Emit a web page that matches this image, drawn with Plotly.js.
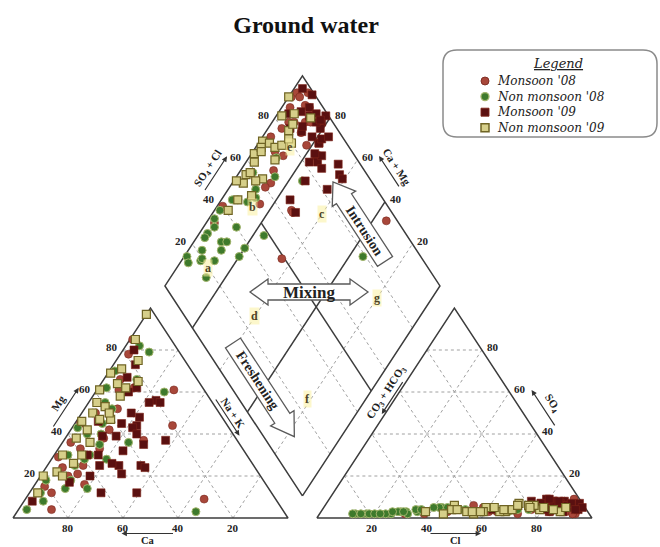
<!DOCTYPE html>
<html><head><meta charset="utf-8">
<script src="https://cdn.plot.ly/plotly-3.0.1.min.js"></script>
<style>html,body{margin:0;padding:0;background:#fff}</style>
</head><body>
<div id="chart" style="width:660px;height:547px"></div>
<script>
// ---------------- DATA (percent of meq/l) ----------------
const seriesNames = ["Monsoon '08", "Non monsoon '08", "Monsoon '09", "Non monsoon '09"];

// Monsoon '08
const m08Ca  = [14,19,31,11,20,34,61,69,66,84,26,62,70,45,28,53,59,70,81,44,42,80,48,36,58,25,66,52];
const m08Mg  = [85,78,61,61,44,37,36,29,21,4,9,25,20,50,66,45,33,24,15,42,55,12,38,52,30,62,16,33];
const m08Cl  = [86,84,68,60,46,61,31,38,83,86,91,89,93,76,78,92,80,89,92,86,72,86,58,70,64,54,80,50];
const m08SO4 = [5,4,4,4,3,3,2,2,3,4,5,3,2,4,6,2,6,9,2,6,2,8,5,4,3,6,5,4];

// Non monsoon '08
const n08Ca  = [11,22,15,55,40,79,66,85,93,32,46,35,28,39,53,65,65,79,45,51,84,13,52,60,48,70,38,57,74];
const n08Mg  = [79,66,60,43,36,20,14,8,4,3,50,62,70,55,40,30,25,18,45,35,12,82,28,28,40,18,52,30,14];
const n08Cl  = [68,50,71,31,43,13,35,17,12,75,29,26,34,42,18,20,28,24,52,62,40,56,32,22,30,36,45,15,26];
const n08SO4 = [3,4,4,3,5,2,3,2,2,4,3,2,4,5,2,2,3,2,4,4,5,3,2,2,3,4,5,2,3];

// Monsoon '09
const m09Ca  = [16,25,20,19,23,40,32,33,35,46,48,43,26,58,56,49,41,40,71,62,89,51,50,35,35,28,19,49,54,30,44,62,24,38];
const m09Mg  = [80,67,56,55,55,50,50,44,43,46,39,39,37,30,25,25,25,24,17,12,8,26,21,35,40,60,73,12,30,48,32,20,62,45];
const m09Cl  = [83,79,80,78,84,90,90,76,85,88,83,92,82,84,86,79,85,74,75,70,93,82,78,60,62,87,94,82,88,84,90,80,89,92];
const m09SO4 = [3,4,6,7,6,5,6,6,5,3,3.5,7,8,4,8,9,7,8,5,6,4,4,7,5,4,6,5,8,6,8,5,9,7,4];

// Non monsoon '09
const n09Ca  = [3,30,25,38,42,40,46,52,79,85,13,17,30,32,52,58,67,73,22,41,65,40,54,28,60,72,45];
const n09Mg  = [97,69,71,61,55,53,50,42,20,12,85,75,64,58,46,38,30,22,65,47,26,50,36,62,30,20,47];
const n09Cl  = [87,67,68,59,53,69,47,45,47,59,79,76,84,70,65,56,62,38,88,74,70,58,49,75,66,55,80];
const n09SO4 = [3,3,4,5,3,4,6,2,4,3,4,6,4,7,3,2,5,3,5,6,6,3,4,5,4,3,5];

const tickValues = [20, 40, 60, 80];
const facieLetters = ['a','b','c','d','e','f','g'];
const facieCaMg    = [88.7, 86.8, 60, 60.3, 87.5, 21, 20];
const facieSO4Cl   = [19.8, 50.6, 74.5, 25.5, 78.8, 25, 74.3];

// ---------------- GEOMETRY ----------------
const G = 0.105;
const W = 660, H = 547;
const PX0 = 13, PY0 = 518, SX = 275, SY = 210;
const SERIF = "Liberation Serif, Times New Roman, serif";
const LSERIF = "DejaVu Serif, serif";
const ANG = Math.atan2(SY, SX / 2) * 180 / Math.PI;

function cat(ca, mg) { const na = 100 - ca - mg; return [(na + mg / 2) / 100, mg / 100]; }
function ani(cl, so4) { return [1 + G + (cl + so4 / 2) / 100, so4 / 100]; }
function dia(camg, so4cl) { return [1 + G / 2 + (so4cl - camg) / 200, G + (camg + so4cl) / 100]; }
function px(x, y) { return [(x - PX0) / SX, (PY0 - y) / SY]; }
function pp(x, y) { return [x / W, 1 - y / H]; }

// ---------------- LINES ----------------
const gx = [], gy = [], ox = [], oy = [];
function seg(a, b, X, Y) { X.push(a[0], b[0], null); Y.push(a[1], b[1], null); }
tickValues.forEach(p => {
  seg(cat(100 - p, p), cat(0, p), gx, gy);
  seg(cat(p, 0), cat(p, 100 - p), gx, gy);
  seg(cat(100 - p, 0), cat(0, 100 - p), gx, gy);
  seg(ani(0, p), ani(100 - p, p), gx, gy);
  seg(ani(p, 0), ani(p, 100 - p), gx, gy);
  seg(ani(100 - p, 0), ani(0, 100 - p), gx, gy);
  seg(dia(p, 0), dia(p, 100), gx, gy);
  seg(dia(0, p), dia(100, p), gx, gy);
});
function poly(pts) { pts.forEach(p => { ox.push(p[0]); oy.push(p[1]); }); ox.push(null); oy.push(null); }
poly([cat(100, 0), cat(0, 0), cat(0, 100), cat(100, 0)]);
poly([ani(0, 0), ani(100, 0), ani(0, 100), ani(0, 0)]);
poly([dia(0, 0), dia(100, 0), dia(100, 100), dia(0, 100), dia(0, 0)]);
poly([dia(80, 0), dia(80, 100)]);
poly([dia(40, 0), dia(40, 100)]);
poly([dia(0, 50), dia(80, 50)]);

const traces = [
  {x: gx, y: gy, mode: 'lines', line: {color: '#a0a0a0', width: 1, dash: '3px,3px'}, hoverinfo: 'skip', showlegend: false},
  {x: ox, y: oy, mode: 'lines', line: {color: '#3c3c3c', width: 1.5}, hoverinfo: 'skip', showlegend: false}
];

const seriesData = [
  {ca: m08Ca, mg: m08Mg, cl: m08Cl, so4: m08SO4, symbol: 'circle', fill: '#a8473a', edge: '#7a2a20', ew: 0.6},
  {ca: n08Ca, mg: n08Mg, cl: n08Cl, so4: n08SO4, symbol: 'circle', fill: '#3e7a2c', edge: '#a3b56c', ew: 1},
  {ca: m09Ca, mg: m09Mg, cl: m09Cl, so4: m09SO4, symbol: 'square', fill: '#5a1010', edge: '#7d2418', ew: 0.6},
  {ca: n09Ca, mg: n09Mg, cl: n09Cl, so4: n09SO4, symbol: 'square', fill: '#d6cf8a', edge: '#6f6424', ew: 1.2}
];
seriesData.forEach((s, k) => {
  const X = [], Y = [];
  for (let i = 0; i < s.ca.length; i++) {
    const c = cat(s.ca[i], s.mg[i]);
    const a = ani(s.cl[i], s.so4[i]);
    const d = dia(s.ca[i] + s.mg[i], s.cl[i] + s.so4[i]);
    X.push(c[0], a[0], d[0]); Y.push(c[1], a[1], d[1]);
  }
  traces.push({x: X, y: Y, mode: 'markers', name: seriesNames[k], showlegend: false,
    marker: {symbol: s.symbol, size: 8, color: s.fill, line: {color: s.edge, width: s.ew}}});
});

// ---------------- ANNOTATIONS ----------------
const ann = [];
function addText(xy, text, opts, font) {
  const a = Object.assign({x: xy[0], y: xy[1], xref: 'x', yref: 'y', text: text, showarrow: false}, opts || {});
  a.font = Object.assign({family: SERIF, size: 11, color: '#222'}, font || {});
  ann.push(a);
}
tickValues.forEach(p => {
  const t = '<b>' + p + '</b>';
  addText(cat(100 - p, p), t, {xanchor: 'right', yanchor: 'middle', xshift: -3, yshift: 3});
  addText(cat(p, 0), t, {xanchor: 'center', yanchor: 'top', yshift: -2});
  addText(ani(p, 0), t, {xanchor: 'center', yanchor: 'top', yshift: -2});
  addText(ani(100 - p, p), t, {xanchor: 'left', yanchor: 'middle', xshift: 3, yshift: 3});
  addText(dia(100, p), t, {xanchor: 'right', yanchor: 'middle', xshift: -3, yshift: 3});
  addText(dia(p, 100), t, {xanchor: 'left', yanchor: 'middle', xshift: 3, yshift: 3});
});

function axisLabel(text, cx, cy, angle, len, headForward, off, fsz) {
  addText(px(cx, cy), '<b>' + text + '</b>', {textangle: angle, xanchor: 'center', yanchor: 'middle'}, {size: fsz || 11});
  const r = angle * Math.PI / 180;
  const dir = [Math.cos(r), Math.sin(r)];
  const down = [-Math.sin(r), Math.cos(r)];
  const mx = cx + off * down[0], my = cy + off * down[1];
  const sgn = headForward ? 1 : -1;
  const head = [mx + sgn * dir[0] * len / 2, my + sgn * dir[1] * len / 2];
  const tail = [mx - sgn * dir[0] * len / 2, my - sgn * dir[1] * len / 2];
  const hp = px(head[0], head[1]);
  ann.push({x: hp[0], y: hp[1], xref: 'x', yref: 'y', text: '', showarrow: true,
    ax: tail[0] - head[0], ay: tail[1] - head[1], arrowhead: 2, arrowsize: 0.9,
    arrowwidth: 1.2, arrowcolor: '#333', standoff: 0, startstandoff: 0});
}
axisLabel('Ca', 148, 540.5, 0, 53, false, -7, 10.5);
axisLabel('Cl', 455, 540.5, 0, 52, true, -7, 10.5);
axisLabel('Mg', 58, 403, -ANG, 48, true, 9);
axisLabel('Na + K', 233, 413, ANG, 45, true, 7);
axisLabel('SO<sub>4</sub> + Cl', 208, 169, -ANG, 42, true, 9);
axisLabel('Ca + Mg', 397, 167, ANG, 38, false, 9);
axisLabel('CO<sub>3</sub> + HCO<sub>3</sub>', 386, 393, -ANG, 40, false, 8);
axisLabel('SO<sub>4</sub>', 552, 403, ANG, 44, false, 10);

facieLetters.forEach((l, i) => {
  addText(dia(facieCaMg[i], facieSO4Cl[i]), '<b>' + l + '</b>',
    {bgcolor: 'rgba(250,240,160,0.55)', borderpad: 1}, {size: 12, color: '#4d4326'});
});

// ---------------- BLOCK ARROWS ----------------
const shapes = [];
function pathFromPx(pts) {
  return 'M ' + pts.map(p => { const d = px(p[0], p[1]); return d[0] + ',' + d[1]; }).join(' L ') + ' Z';
}
function add(a, b, k) { return [a[0] + b[0] * k, a[1] + b[1] * k]; }
function singleArrow(tip, tail, s, h, hl) {
  const L = Math.hypot(tip[0] - tail[0], tip[1] - tail[1]);
  const d = [(tip[0] - tail[0]) / L, (tip[1] - tail[1]) / L];
  const n = [-d[1], d[0]];
  const base = add(tip, d, -hl);
  return [add(tail, n, s), add(base, n, s), add(base, n, h), tip, add(base, n, -h), add(base, n, -s), add(tail, n, -s)];
}
function doubleArrow(t1, t2, s, h, hl) {
  const L = Math.hypot(t2[0] - t1[0], t2[1] - t1[1]);
  const d = [(t2[0] - t1[0]) / L, (t2[1] - t1[1]) / L];
  const n = [-d[1], d[0]];
  const b1 = add(t1, d, hl), b2 = add(t2, d, -hl);
  return [t1, add(b1, n, h), add(b1, n, s), add(b2, n, s), add(b2, n, h), t2, add(b2, n, -h), add(b2, n, -s), add(b1, n, -s), add(b1, n, -h)];
}
const arrowStyle = {type: 'path', xref: 'x', yref: 'y', fillcolor: '#ffffff', line: {color: '#5a5a5a', width: 1.3}, layer: 'above'};
const dA = [Math.cos(ANG * Math.PI / 180), Math.sin(ANG * Math.PI / 180)];
const intrTip = [333, 182], intrTail = add(intrTip, dA, 95);
const freshTail = [233, 343], freshTip = add(freshTail, dA, 112);
shapes.push(Object.assign({path: pathFromPx(doubleArrow([250, 292], [368, 292], 8, 13, 18))}, arrowStyle));
shapes.push(Object.assign({path: pathFromPx(singleArrow(intrTip, intrTail, 9, 14, 20))}, arrowStyle));
shapes.push(Object.assign({path: pathFromPx(singleArrow(freshTip, freshTail, 9, 14, 22))}, arrowStyle));
addText(px(309, 292), '<b>Mixing</b>', {}, {size: 17, color: '#222'});
const intrMid = add(add(intrTip, dA, 20), dA, (95 - 20) / 2);
addText(px(intrMid[0], intrMid[1]), '<b>Intrusion</b>', {textangle: ANG}, {size: 14, color: '#222'});
const freshMid = add(freshTail, dA, (112 - 22) / 2);
addText(px(freshMid[0], freshMid[1]), '<b>Freshening</b>', {textangle: ANG}, {size: 14, color: '#222'});

// ---------------- LEGEND (custom) ----------------
(function () {
  const x0 = 443, y0 = 50, x1 = 657, y1 = 137, r = 14;
  const P = (x, y) => { const q = pp(x, y); return q[0] + ',' + q[1]; };
  const path = 'M ' + P(x0 + r, y0) + ' L ' + P(x1 - r, y0) + ' Q ' + P(x1, y0) + ' ' + P(x1, y0 + r) +
    ' L ' + P(x1, y1 - r) + ' Q ' + P(x1, y1) + ' ' + P(x1 - r, y1) +
    ' L ' + P(x0 + r, y1) + ' Q ' + P(x0, y1) + ' ' + P(x0, y1 - r) +
    ' L ' + P(x0, y0 + r) + ' Q ' + P(x0, y0) + ' ' + P(x0 + r, y0) + ' Z';
  shapes.push({type: 'path', xref: 'paper', yref: 'paper', path: path, fillcolor: 'rgba(0,0,0,0)', line: {color: '#8a8a8a', width: 1.5}});
  const t = pp(558, 63);
  ann.push({x: t[0], y: t[1], xref: 'paper', yref: 'paper', text: '<i><u>Legend</u></i>', showarrow: false,
    xanchor: 'center', yanchor: 'middle', font: {family: LSERIF, size: 13, color: '#222'}});
  const fs = 12, lh = fs * 1.3, firstRow = 81;
  const rows = seriesNames.map((_, k) => firstRow + k * lh);
  seriesNames.forEach((nm, k) => {
    const s = seriesData[k];
    const c0 = pp(481, rows[k] - 4), c1 = pp(489, rows[k] + 4);
    shapes.push({type: s.symbol === 'circle' ? 'circle' : 'rect', xref: 'paper', yref: 'paper',
      x0: c0[0], y0: c1[1], x1: c1[0], y1: c0[1], fillcolor: s.fill, line: {color: s.edge, width: s.ew + 0.3}});
  });
  const q = pp(496, (rows[0] + rows[3]) / 2);
  ann.push({x: q[0], y: q[1], xref: 'paper', yref: 'paper',
    text: seriesNames.map(n => '<i>' + n + '</i>').join('<br>'), showarrow: false, align: 'left',
    xanchor: 'left', yanchor: 'middle', borderpad: 0, font: {family: LSERIF, size: fs, color: '#222'}});
})();

const layout = {
  width: W, height: H,
  margin: {l: 0, r: 0, t: 0, b: 0},
  paper_bgcolor: '#ffffff', plot_bgcolor: '#ffffff',
  showlegend: false,
  title: {text: '<b>Ground water</b>', x: 306 / W, xref: 'container', xanchor: 'center',
    y: 1 - 25 / H, yref: 'container', yanchor: 'middle', font: {family: SERIF, size: 24, color: '#111'}},
  xaxis: {range: [-PX0 / SX, (W - PX0) / SX], visible: false, fixedrange: true},
  yaxis: {range: [-(H - PY0) / SY, PY0 / SY], visible: false, fixedrange: true},
  shapes: shapes,
  annotations: ann
};
Plotly.newPlot('chart', traces, layout, {staticPlot: true, displayModeBar: false});
</script>
</body></html>
